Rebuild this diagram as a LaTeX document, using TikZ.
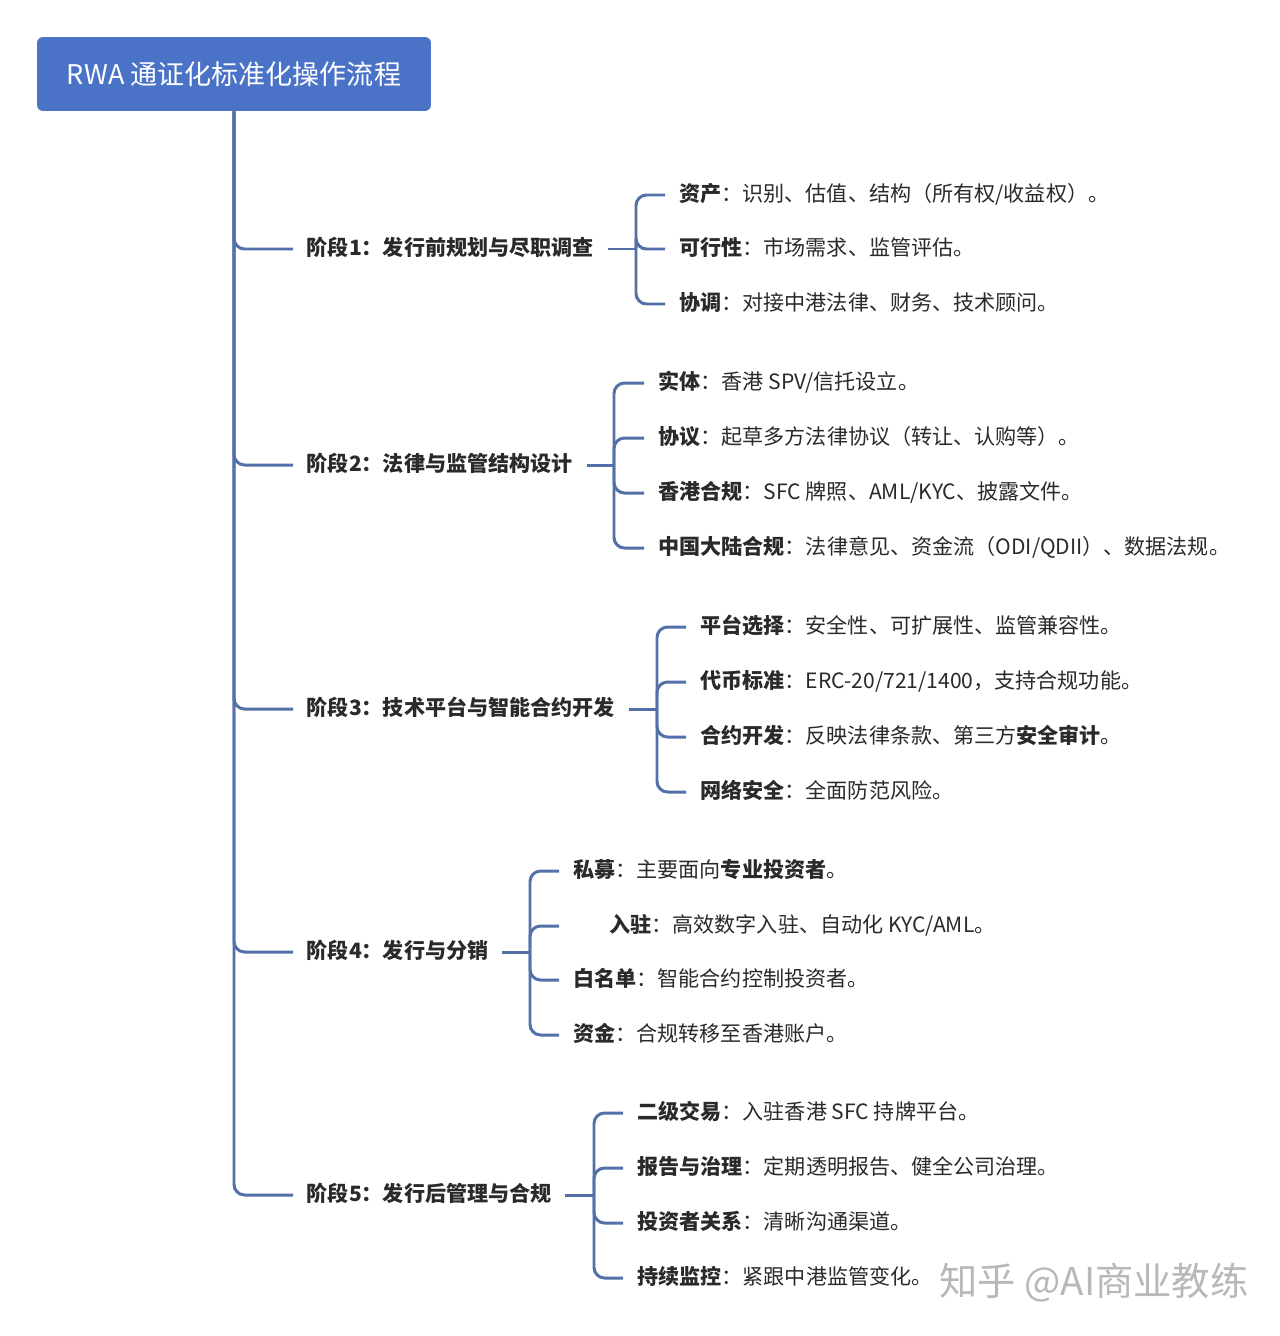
\documentclass[tikz,border=0pt]{standalone}
\usepackage{fontspec}
\setmainfont{Noto Sans CJK SC}
\definecolor{titleblue}{HTML}{4A73C7}
\definecolor{linec}{HTML}{5470A8}
\definecolor{txt}{HTML}{2A2A2A}
\definecolor{wmgray}{HTML}{B8B8B8}
\begin{document}
\begin{tikzpicture}[x=0.02cm,y=-0.02cm,
  conn/.style={draw=linec,line width=1.7pt,rounded corners=6pt},
  stagebox/.style={anchor=west,inner xsep=0.27cm,inner ysep=0pt,text=txt,
    font=\fontsize{12pt}{14pt}\selectfont\bfseries,text height=0.88em,text depth=0.12em},
  leafbox/.style={anchor=west,inner xsep=0.28cm,inner ysep=0pt,text=txt,
    font=\fontsize{12pt}{14pt}\selectfont,text height=0.88em,text depth=0.12em},
]
\fill[white] (0,0) rectangle (1280,1336);
\useasboundingbox (0,0) rectangle (1280,1336);

\node[fill=titleblue, rounded corners=3.4pt, minimum width=7.88cm, minimum height=1.48cm,
  text=white, font=\fontsize{15.4pt}{18pt}\selectfont, inner sep=0pt] (title) at (234,74) {RWA 通证化标准化操作流程};

% stages
\node[stagebox] (s1) at (293,249) {阶段1：发行前规划与尽职调查};
\node[stagebox] (s2) at (293,465) {阶段2：法律与监管结构设计};
\node[stagebox] (s3) at (293,709) {阶段3：技术平台与智能合约开发};
\node[stagebox] (s4) at (293,952) {阶段4：发行与分销};
\node[stagebox] (s5) at (293,1195) {阶段5：发行后管理与合规};

% trunk
\foreach \s in {s1,s2,s3,s4,s5}{
  \draw[conn] (title.south) |- (\s.west);
}

% stage 1 leaves
\node[leafbox] (l11) at (665,195) {\textbf{资产}：识别、估值、结构（所有权/收益权）。};
\node[leafbox] (l12) at (665,249) {\textbf{可行性}：市场需求、监管评估。};
\node[leafbox] (l13) at (665,304) {\textbf{协调}：对接中港法律、财务、技术顾问。};
\coordinate (b1) at (636,249);
\draw[conn] (s1.east) -- (b1);
\foreach \l in {l11,l12,l13}{ \draw[conn] (b1) |- (\l.west); }

% stage 2 leaves
\node[leafbox] (l21) at (644,383) {\textbf{实体}：香港 SPV/信托设立。};
\node[leafbox] (l22) at (644,438) {\textbf{协议}：起草多方法律协议（转让、认购等）。};
\node[leafbox] (l23) at (644,493) {\textbf{香港合规}：SFC 牌照、AML/KYC、披露文件。};
\node[leafbox] (l24) at (644,548) {\textbf{中国大陆合规}：法律意见、资金流（ODI/QDII）、数据法规。};
\coordinate (b2) at (614,465);
\draw[conn] (s2.east) -- (b2);
\foreach \l in {l21,l22,l23,l24}{ \draw[conn] (b2) |- (\l.west); }

% stage 3 leaves
\node[leafbox] (l31) at (686,627) {\textbf{平台选择}：安全性、可扩展性、监管兼容性。};
\node[leafbox] (l32) at (686,682) {\textbf{代币标准}：ERC-20/721/1400，支持合规功能。};
\node[leafbox] (l33) at (686,737) {\textbf{合约开发}：反映法律条款、第三方\textbf{安全审计}。};
\node[leafbox] (l34) at (686,792) {\textbf{网络安全}：全面防范风险。};
\coordinate (b3) at (657,709);
\draw[conn] (s3.east) -- (b3);
\foreach \l in {l31,l32,l33,l34}{ \draw[conn] (b3) |- (\l.west); }

% stage 4 leaves
\node[leafbox] (l41) at (559,871) {\textbf{私募}：主要面向\textbf{专业投资者}。};
\node[leafbox] (l42) at (595,926) {\textbf{入驻}：高效数字入驻、自动化 KYC/AML。};
\node[leafbox] (l43) at (559,980) {\textbf{白名单}：智能合约控制投资者。};
\node[leafbox] (l44) at (559,1035) {\textbf{资金}：合规转移至香港账户。};
\coordinate (b4) at (530,952);
\coordinate (e42) at (l41.west |- l42.west);
\draw[conn] (s4.east) -- (b4);
\foreach \l in {l41,e42,l43,l44}{ \draw[conn] (b4) |- (\l); }

% stage 5 leaves
\node[leafbox] (l51) at (623,1113) {\textbf{二级交易}：入驻香港 SFC 持牌平台。};
\node[leafbox] (l52) at (623,1168) {\textbf{报告与治理}：定期透明报告、健全公司治理。};
\node[leafbox] (l53) at (623,1223) {\textbf{投资者关系}：清晰沟通渠道。};
\node[leafbox] (l54) at (623,1278) {\textbf{持续监控}：紧跟中港监管变化。};
\coordinate (b5) at (594,1195);
\draw[conn] (s5.east) -- (b5);
\foreach \l in {l51,l52,l53,l54}{ \draw[conn] (b5) |- (\l.west); }

% watermark
\node[text=wmgray, font=\fontsize{21.8pt}{24pt}\selectfont, inner sep=0pt] (wm) at (1094,1283) {知乎 @AI商业教练};
\end{tikzpicture}
\end{document}
